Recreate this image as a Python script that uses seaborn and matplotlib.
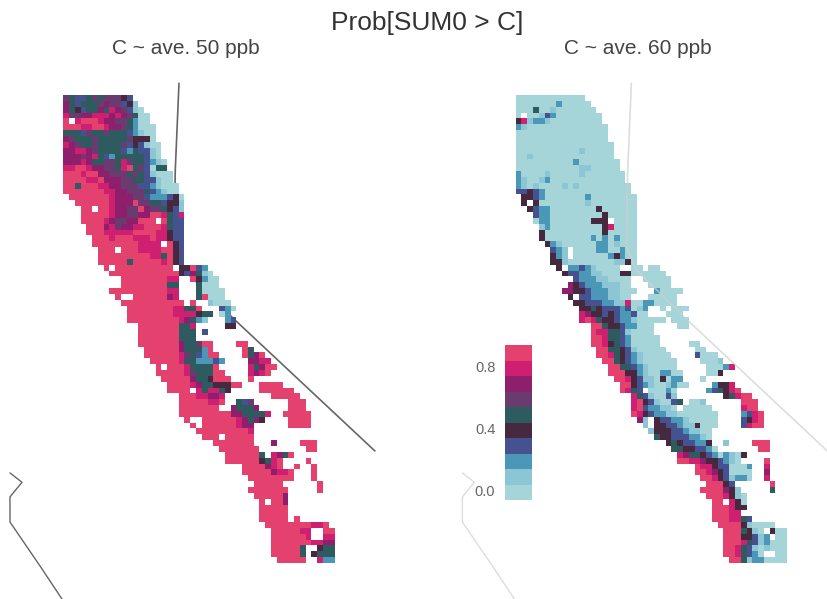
import matplotlib
matplotlib.use("Agg")
import numpy as np
import matplotlib.pyplot as plt
import seaborn as sns
from matplotlib.colors import ListedColormap

# one character per grid cell: probability level 0-9, "." = no data
rows_50 = [
    "653356566643", "7535556766341", "75435575876310", "866778887876500",
    "9.8999877665200", "9998899877652000", "5553655655532100", "7655565555564440",
    "87655655556343100", "77887655553253310", "77767853255555310", "777875566586553210",
    "889987766589563055", "9998997766656531000", "9999889777665533100", "99599988776663321000",
    "99999998877666532100", ".99999998777663222340", "..9999998777966553441", "...99.998776697665431",
    "...999998776677998538", "...9999876677999.9533", "....99978677889998533", "....99988888999988433",
    ".....9998999888988433", ".....999999998888.943", "......999.99988889943", "......999999999885943",
    "......999995999998943", ".......9.9999999999.44932", "........999999999999437510", "..........9999999988..94200",
    "..........9999999955...5000", "........999999999988...50000", ".........9..99999978...59000", "..........99999999999.9..1000",
    "...........9999999988559...320", "...........999999998888455.02", "...........99999999987521...23", ".............9999999558.....44",
    ".............9999999555.3", ".............9999999555", ".............9999999755699....99", "..............999999755529.....95",
    "..............9999998653299....9579", "...............9999985522232....7788", "................9.999855559.....85799", "................999998655599....8789",
    ".................999997554999...9", "..................9999875544499...9999", "..................9999.858854.....999999", "....................99988778........99999",
    "....................99999889..536......999", "....................9999999..75557.....999", "....................9999999997755558..99999", ".....................9..99999987574....9999",
    "......................9.999999877......9999", ".......................9999999998", "........................999.99999", "..........................9999999...7....999",
    "...........................9999999........99", "............................9999995.8759", "............................9999994589....9", "...............................9999789..9..9",
    "...............................999997889...9", "................................99999999...9", ".................................99999......9", "................................9999999.....9",
    ".................................999997", "..................................9.997", "..................................99999", "..................................99999",
    "..................................99999.9", "...................................99999999889", "....................................9999988..99", "....................................9999998..88",
    "....................................99999998877", "....................................999995..455", "....................................999995.4555", ".....................................99999..822",
]
rows_60 = [
    "000000000000", "0000000200000", "00050010000000", "0.0013200000000",
    "481221000000000", "2100000000000000", "0000000000000000", "0000000000000000",
    "00000000000000000", "00000000000100000", "00100000000000000", "000000000020000000",
    "000000000001100000", "2000010000010000000", "2100120000000000000", "21010000101000000000",
    "33432000000000000000", ".44320000000200000000", ".4.400000000100000000", "..4322000000004000000",
    "...322000000000400000", "...0220000000444.0000", "....12000000000480000", "....40000000000400000",
    "....40000000020202000", ".....4210000002201000", "......321.00002200200", "......421.00000024200",
    "......441000000001140", ".......4.223210000..00.00", "........43322110004400 0000", "..........3222110000..00000",
    ".........74322211100...0000", "........7744322211000...20000", ".........4.332221100...00000", "..........44333221180022000 0",
    "...........445433323012..0.000", "...........874434322300...000", "...........898544322100000.000", ".............99544322000....00",
    ".............98855310000", ".............998553200000", ".............998453200000.....00", "..............995543100000.....00",
    "..............9985432100000....3000", "...............9954321000000....0001", "................995532100000.....00028", "................9994421002200....004",
    ".................998431104022...0", "..................994321001200....2448", "..................9853.00020.....235489", "....................85310031........45899",
    "....................894310035.001......999", "....................89322110.00000.....899", "....................984322110000000....2389", ".....................71.43322100000....3489",
    "......................1.44332114000....3899", ".......................14443321100", "........................5443332210", "..........................45433224..1....999",
    "...........................554433 20.......99", "............................875543202104", "............................99887443210....9", "...............................9884330002..8",
    "...............................9987430000..7", "................................998431220..8", ".................................99943......9", "................................9999741.....5",
    ".................................9998410", "..................................99.840", "..................................999844", "..................................99988",
    "..................................9998853", "...................................9999410000", "....................................9995410.400", "....................................99944312.00",
    "....................................99985312000", "....................................99853101000", "....................................9985320..00", ".....................................9951220000",
]
rows_60 = [r.replace(" ", "") for r in rows_60]

level_colors = ["#a5d5d9", "#8cc6d5", "#4a97b8", "#45528f", "#46293f",
                "#2d5b60", "#6a3b6e", "#8d1f6c", "#cf1f70", "#e4416f"]
cbar_levels = [9, 8, 7, 6, 5, 4, 3, 2, 1, 0]
cbar_ticks = [0.0, 0.4, 0.8]

# coast outlines in grid cell units
shore_x = [20.05, 19.4, 19.2, 21.0, 29.9, 54.0]
shore_y = [-2.0, 13.0, 26.0, 30.0, 38.6, 60.85]
south_x = [-9.24, -7.16, -9.24, -9.24, -4.04, -0.2]
south_y = [64.6, 66.2, 68.7, 73.0, 80.5, 86.2]


def to_grid(rows):
    # turn the row strings into a 80 x 47 array with nan for empty cells
    grid = np.full((len(rows), 47), np.nan)
    for i, row in enumerate(rows):
        for j, ch in enumerate(row[:47]):
            if ch != ".":
                grid[i, j] = int(ch)
    return grid


def add_panel(fig, rows, left, line_color, line_z, line_alpha):
    ax = fig.add_axes([left / 827, 1 - 563 / 599, 271.2 / 827, 468 / 599])
    sns.heatmap(to_grid(rows), ax=ax, cmap=cmap, vmin=0, vmax=9, cbar=False,
                xticklabels=False, yticklabels=False)
    ax.plot(shore_x, shore_y, color=line_color, lw=1.2, alpha=line_alpha, zorder=line_z, clip_on=False)
    ax.plot(south_x, south_y, color=line_color, lw=1.0, alpha=line_alpha, zorder=line_z, clip_on=False)
    ax.patch.set_visible(False)
    return ax


sns.set_style("white")
plt.rcParams["font.family"] = ["Liberation Sans", "DejaVu Sans"]
cmap = ListedColormap(level_colors)

fig = plt.figure(figsize=(8.27, 5.99), dpi=100)
add_panel(fig, rows_50, 63.3, "#666666", 0.5, 1.0)
add_panel(fig, rows_60, 515.7, "#cfcfcf", 2, 0.7)

fig.text(427 / 827, 1 - 23 / 599, "Prob[SUM0 > C]", fontsize=19, color="#333333",
         ha="center", va="center")
fig.text(185.5 / 827, 1 - 48 / 599, "C ~ ave. 50 ppb", fontsize=15, color="#444444",
         ha="center", va="center")
fig.text(638 / 827, 1 - 48 / 599, "C ~ ave. 60 ppb", fontsize=15, color="#444444",
         ha="center", va="center")

# colour key
cax = fig.add_axes([505 / 827, 1 - 500 / 599, 27 / 827, 155 / 599])
sns.heatmap(np.array(cbar_levels).reshape(-1, 1), ax=cax, cmap=cmap, vmin=0, vmax=9,
            cbar=False, xticklabels=False)
cax.set_yticks([cbar_levels.index(round(t * 10)) + 0.5 for t in cbar_ticks])
cax.set_yticklabels([f"{t:.1f}" for t in cbar_ticks], rotation=0, fontsize=10.5, color="#666666")
cax.tick_params(axis="y", length=0, pad=7)

fig.savefig("out.png", dpi=100)
